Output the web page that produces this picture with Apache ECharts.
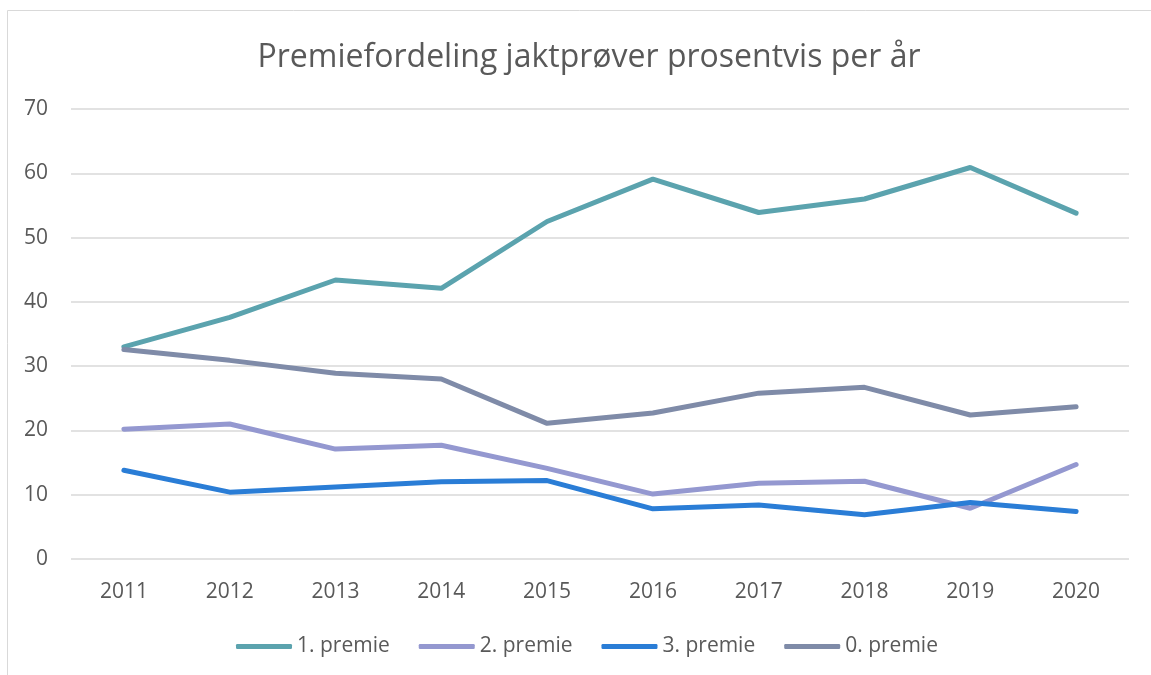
<!DOCTYPE html>
<html>
<head>
<meta charset="utf-8">
<script src="https://cdn.jsdelivr.net/npm/echarts@6/dist/echarts.min.js"></script>
<style>
html,body{margin:0;padding:0;background:#fff;}
#c{width:1151px;height:675px;}
</style>
</head>
<body>
<div id="c"></div>
<script>
const years = ['2011','2012','2013','2014','2015','2016','2017','2018','2019','2020'];
const premie1 = [33.0, 37.6, 43.4, 42.1, 52.5, 59.1, 53.9, 56.0, 60.9, 53.8];
const premie2 = [20.2, 21.0, 17.1, 17.7, 14.1, 10.1, 11.8, 12.1, 7.9, 14.7];
const premie3 = [13.8, 10.4, 11.2, 12.0, 12.2, 7.8, 8.4, 6.9, 8.8, 7.4];
const premie0 = [32.6, 30.9, 28.9, 28.0, 21.1, 22.7, 25.8, 26.7, 22.4, 23.7];
const seriesNames = ['1. premie','2. premie','3. premie','0. premie'];
const colors = ['#5BA3AE','#9498D0','#2A7DD6','#7F8BA8'];
const font = '"Open Sans", "Noto Sans", sans-serif';

const chart = echarts.init(document.getElementById('c'), null, {renderer:'canvas'});
const mk = (name, data, color) => ({
  name, type:'line', data, symbol:'none', smooth:false,
  lineStyle:{color, width:5, cap:'round'},
  itemStyle:{color},
  emphasis:{disabled:true}
});
chart.setOption({
  animation:false,
  textStyle:{fontFamily:font},
  graphic:[{type:'rect', shape:{x:7.5,y:10.5,width:1160,height:700}, style:{fill:'none', stroke:'#D9D9D9', lineWidth:1}, silent:true}],
  title:{
    text:'Premiefordeling jaktprøver prosentvis per år',
    left:584, top:37, textAlign:'center',
    textStyle:{fontFamily:font, fontSize:32, fontWeight:'normal', color:'#595959'}
  },
  legend:{
    data:seriesNames, left:231, top:631, itemWidth:56, itemHeight:5, itemGap:29,
    icon:'roundRect',
    textStyle:{fontFamily:font, fontSize:21, color:'#595959', padding:[0,0,0,0]}
  },
  grid:{left:71, right:22, top:109, bottom:116, containLabel:false},
  xAxis:{
    type:'category', data:years, boundaryGap:true,
    axisLine:{show:false}, axisTick:{show:false},
    axisLabel:{fontFamily:font, fontSize:21, color:'#595959', margin:23}
  },
  yAxis:{
    type:'value', min:0, max:70, interval:10,
    axisLine:{show:false}, axisTick:{show:false},
    splitLine:{lineStyle:{color:'#D9D9D9', width:1.5}},
    axisLabel:{fontFamily:font, fontSize:21, color:'#595959', margin:23}
  },
  series:[
    mk(seriesNames[0], premie1, colors[0]),
    mk(seriesNames[1], premie2, colors[1]),
    mk(seriesNames[2], premie3, colors[2]),
    mk(seriesNames[3], premie0, colors[3])
  ]
});
</script>
</body>
</html>
